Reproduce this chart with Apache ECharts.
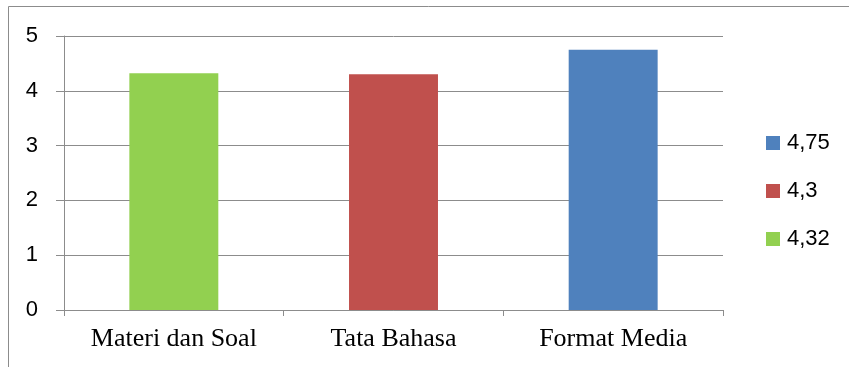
<!DOCTYPE html>
<html>
<head>
<meta charset="utf-8">
<script src="https://cdn.jsdelivr.net/npm/echarts@6/dist/echarts.min.js"></script>
<style>
  html, body { margin: 0; padding: 0; background: #fff; }
  #chart { width: 849px; height: 367px; }
</style>
</head>
<body>
<div id="chart"></div>
<script>
// chart values
const categories = ['Materi dan Soal', 'Tata Bahasa', 'Format Media'];
const seriesNames = ['4,32', '4,3', '4,75'];
const seriesValues = [
  [4.32, '-', '-'],
  ['-', 4.3, '-'],
  ['-', '-', 4.75]
];
const seriesColors = ['#92D050', '#C0504D', '#4F81BD'];
const legendOrder = ['4,75', '4,3', '4,32'];
const yTicks = { min: 0, max: 5, interval: 1 };

const gray = '#8c8c8c';

const chart = echarts.init(document.getElementById('chart'), null, { renderer: 'canvas' });

const series = seriesNames.map((name, i) => ({
  name: name,
  type: 'bar',
  stack: 'all',
  barWidth: '40.5%',
  data: seriesValues[i],
  itemStyle: { color: seriesColors[i] }
}));

chart.setOption({
  animation: false,
  backgroundColor: '#fff',
  grid: { left: 64, right: 126, top: 36, bottom: 57 },
  graphic: [
    // frame: only top and left edges show in the crop
    { type: 'line', shape: { x1: 8.5, y1: 6.5, x2: 849, y2: 6.5 }, style: { stroke: gray, lineWidth: 1 } },
    { type: 'line', shape: { x1: 8.5, y1: 6.5, x2: 8.5, y2: 367 }, style: { stroke: gray, lineWidth: 1 } }
  ],
  legend: {
    data: legendOrder,
    orient: 'vertical',
    left: 766,
    top: 131,
    padding: 0,
    itemWidth: 14,
    itemHeight: 14,
    itemGap: 24,
    icon: 'rect',
    textStyle: { fontFamily: 'Liberation Sans', fontSize: 22, color: '#000', lineHeight: 24, padding: [0, 0, 0, 2] }
  },
  xAxis: {
    type: 'category',
    data: categories,
    axisLine: { lineStyle: { color: gray, width: 1 } },
    axisTick: { show: true, length: 6, lineStyle: { color: gray } },
    axisLabel: { fontFamily: 'Liberation Serif', fontSize: 26, color: '#000', margin: 16 }
  },
  yAxis: {
    type: 'value',
    min: yTicks.min,
    max: yTicks.max,
    interval: yTicks.interval,
    axisLine: { show: true, lineStyle: { color: gray, width: 1 } },
    axisTick: { show: true, length: 8, lineStyle: { color: gray } },
    splitLine: { lineStyle: { color: gray, width: 1 } },
    axisLabel: { fontFamily: 'Liberation Sans', fontSize: 22, color: '#000', margin: 26 }
  },
  series: series
});
</script>
</body>
</html>
